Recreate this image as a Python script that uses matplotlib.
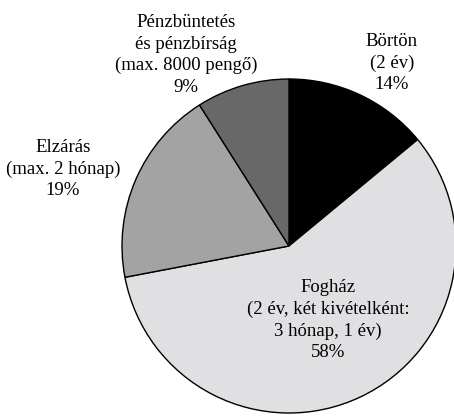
import matplotlib.pyplot as plt

# slices, clockwise from 12 o'clock
labels = [
    "Börtön\n(2 év)",
    "Fogház\n(2 év, két kivételként:\n3 hónap, 1 év)",
    "Elzárás\n(max. 2 hónap)",
    "Pénzbüntetés\nés pénzbírság\n(max. 8000 pengő)",
]
shares = [14, 58, 19, 9]
colors = ["#000000", "#e0e0e2", "#a3a3a3", "#686868"]

# label centres (figure pixels, y from top)
label_xy = [(392, 63), (328, 320), (63, 169), (186, 55)]

W, H = 454, 416
cx, cy, r = 289, 246, 167

fig = plt.figure(figsize=(W / 100, H / 100), dpi=100)
ax = fig.add_axes([0, 0, 1, 1])

ax.pie(
    shares,
    colors=colors,
    startangle=90,
    counterclock=False,
    center=(cx, H - cy),
    radius=r,
    wedgeprops=dict(edgecolor="black", linewidth=1.0),
    frame=True,
)
ax.set_xlim(0, W)
ax.set_ylim(0, H)
ax.set_aspect("equal")
ax.axis("off")

for lab, val, (x, y) in zip(labels, shares, label_xy):
    ax.text(x, H - y, f"{lab}\n{val}%", ha="center", va="center",
            fontsize=13.5, family="Liberation Serif", linespacing=1.35)

fig.savefig("out.png", dpi=100)
